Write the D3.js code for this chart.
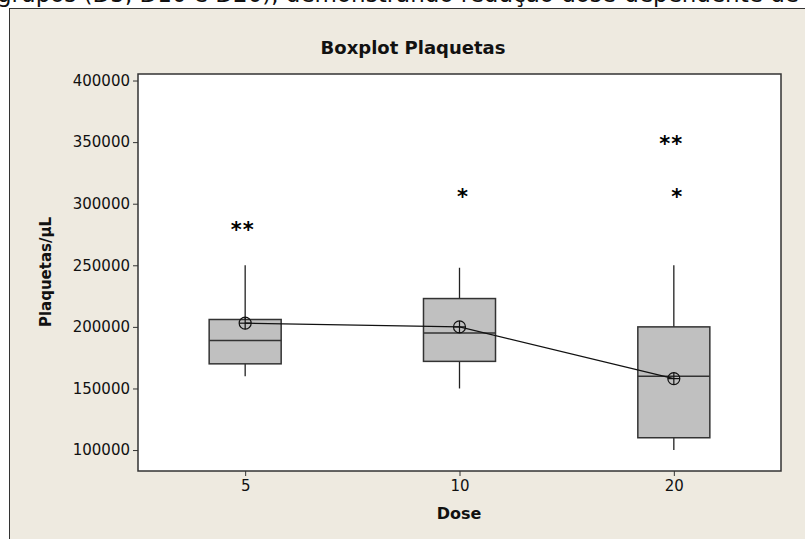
<html>
<script src="https://d3js.org/d3.v7.min.js"></script>
<style>
  body { margin: 0; background: #fff; }
  text { font-family: "DejaVu Sans", Verdana, sans-serif; fill: #111; }
</style>
<body>
<svg width="805" height="539"></svg>

<script>
// values
var doses = ["5", "10", "20"];
var q1 = [170000, 172000, 110000];
var medians = [189000, 195000, 160000];
var q3 = [206000, 223000, 200000];
var whiskerLow = [160000, 150000, 100000];
var whiskerHigh = [250000, 248000, 250000];
var means = [203000, 200000, 158000];
var outliers = [[280000, 280000], [307000], [350000, 350000, 307000]];
var yTicks = [100000, 150000, 200000, 250000, 300000, 350000, 400000];

var svg = d3.select("svg");

// cut-off caption line above the figure
svg.append("text")
  .attr("x", -3).attr("y", 2)
  .style("font-size", "23px")
  .text("grupos (D5, D10 e D20), demonstrando redução  dose-dependente de plaquetas");

// figure frame
svg.append("rect")
  .attr("x", 9.5).attr("y", 8.5)
  .attr("width", 820).attr("height", 560)
  .attr("fill", "#eeeae0").attr("stroke", "#333").attr("stroke-width", 1);

var plotLeft = 138, plotRight = 781, plotTop = 74, plotBottom = 471;

var x = d3.scalePoint().domain(doses).range([plotLeft, plotRight]).padding(0.5);
var y = d3.scaleLinear().domain([83000, 405300]).range([plotBottom, plotTop]);
var boxW = x.step() * 0.336;

// plot area
svg.append("rect")
  .attr("x", plotLeft).attr("y", plotTop)
  .attr("width", plotRight - plotLeft).attr("height", plotBottom - plotTop)
  .attr("fill", "#fff");

// axes
var yAxis = svg.append("g")
  .attr("transform", "translate(" + plotLeft + ",0)")
  .call(d3.axisLeft(y).tickValues(yTicks).tickFormat(d3.format("d")).tickSize(5).tickPadding(3).tickSizeOuter(0));
yAxis.select(".domain").remove();
yAxis.selectAll("text").style("font-size", "15px").attr("font-family", null);
yAxis.selectAll("line").attr("stroke", "#333");

var xAxis = svg.append("g")
  .attr("transform", "translate(0," + plotBottom + ")")
  .call(d3.axisBottom(x).tickSize(5).tickPadding(4).tickSizeOuter(0));
xAxis.select(".domain").remove();
xAxis.selectAll("text").style("font-size", "15px").attr("font-family", null);
xAxis.selectAll("line").attr("stroke", "#333");

// boxes, whiskers, medians, outliers
var g = svg.append("g");
doses.forEach(function(d, i) {
  var cx = x(d);
  g.append("line")
    .attr("x1", cx).attr("x2", cx)
    .attr("y1", y(whiskerHigh[i])).attr("y2", y(q3[i]))
    .attr("stroke", "#222").attr("stroke-width", 1.3);
  g.append("line")
    .attr("x1", cx).attr("x2", cx)
    .attr("y1", y(q1[i])).attr("y2", y(whiskerLow[i]))
    .attr("stroke", "#222").attr("stroke-width", 1.3);
  g.append("rect")
    .attr("x", cx - boxW / 2).attr("y", y(q3[i]))
    .attr("width", boxW).attr("height", y(q1[i]) - y(q3[i]))
    .attr("fill", "#c0c0c0").attr("stroke", "#333").attr("stroke-width", 1.5);
  g.append("line")
    .attr("x1", cx - boxW / 2).attr("x2", cx + boxW / 2)
    .attr("y1", y(medians[i])).attr("y2", y(medians[i]))
    .attr("stroke", "#333").attr("stroke-width", 1.5);

  // outliers: tied values are placed side by side
  var seen = {};
  outliers[i].forEach(function(v) {
    var k = seen[v] || 0;
    seen[v] = k + 1;
    g.append("text")
      .attr("x", cx + 3 - k * 12)
      .attr("y", y(v) + 9)
      .attr("text-anchor", "middle")
      .style("font-size", "21px").style("font-weight", "bold")
      .style("fill", "#000")
      .text("*");
  });
});

// line connecting means
var meanLine = d3.line().x(function(d, i) { return x(doses[i]); }).y(function(d) { return y(d); });
svg.append("path")
  .attr("d", meanLine(means))
  .attr("fill", "none").attr("stroke", "#111").attr("stroke-width", 1.2);

// mean symbols (circle with cross)
doses.forEach(function(d, i) {
  var cx = x(d), cy = y(means[i]), r = 6;
  svg.append("circle").attr("cx", cx).attr("cy", cy).attr("r", r)
    .attr("fill", "none").attr("stroke", "#111").attr("stroke-width", 1.2);
  svg.append("line").attr("x1", cx - r).attr("x2", cx + r).attr("y1", cy).attr("y2", cy)
    .attr("stroke", "#111").attr("stroke-width", 1.2);
  svg.append("line").attr("x1", cx).attr("x2", cx).attr("y1", cy - r).attr("y2", cy + r)
    .attr("stroke", "#111").attr("stroke-width", 1.2);
});

// plot border
svg.append("rect")
  .attr("x", plotLeft).attr("y", plotTop)
  .attr("width", plotRight - plotLeft).attr("height", plotBottom - plotTop)
  .attr("fill", "none").attr("stroke", "#333").attr("stroke-width", 1.5);

// titles
svg.append("text")
  .attr("x", 413).attr("y", 54)
  .attr("text-anchor", "middle")
  .style("font-size", "18px").style("font-weight", "bold")
  .text("Boxplot Plaquetas");

svg.append("text")
  .attr("x", 459).attr("y", 519)
  .attr("text-anchor", "middle")
  .style("font-size", "16px").style("font-weight", "bold")
  .text("Dose");

svg.append("text")
  .attr("transform", "translate(51,272) rotate(-90)")
  .attr("text-anchor", "middle")
  .style("font-size", "15px").style("font-weight", "bold")
  .text("Plaquetas/µL");
</script>
</body>
</html>
